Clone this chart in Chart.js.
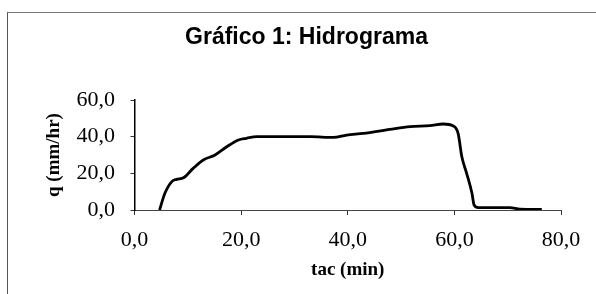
<!DOCTYPE html>
<html>
<head>
<meta charset="utf-8">
<script src="https://cdn.jsdelivr.net/npm/chart.js@4/dist/chart.umd.min.js"></script>
<style>
  html, body { margin: 0; padding: 0; background: #fff; }
  #wrap { position: relative; width: 596px; height: 294px; overflow: hidden; }
  #frame { position: absolute; left: 7px; top: 12px; width: 620px; height: 320px;
           border-top: 1px solid #777; border-left: 1px solid #555; }
  canvas { position: absolute; left: 0; top: 0; }
</style>
</head>
<body>
<div id="wrap">
  <div id="frame"></div>
  <canvas id="c" width="596" height="294"></canvas>
</div>
<script>
// Hydrograph readings: time (min) and discharge q (mm/hr)
const tac = [4.7, 5.7, 7.0, 7.9, 9.2, 11.0, 12.9, 15.1, 17.3, 19.5, 21.0, 22.9, 27.0, 33.0, 37.3, 39.8,
             42.9, 47.9, 51.7, 55.4, 57.9, 59.8, 60.7, 61.4, 62.3, 63.3, 63.7, 64.5, 67.0, 70.4, 72.3, 76.4];
const q   = [0.0, 9.1, 15.5, 16.7, 17.6, 22.7, 27.3, 30.0, 34.5, 38.2, 39.1, 40.0, 40.0, 40.0, 39.6, 40.9,
             41.8, 44.0, 45.5, 46.0, 46.9, 45.8, 41.8, 29.0, 20.0, 9.1, 2.7, 1.3, 1.3, 1.3, 0.5, 0.3];
const xTicks = [0, 20, 40, 60, 80];
const yTicks = [0, 20, 40, 60];
const titleText = 'Gráfico 1: Hidrograma';
const xTitle = 'tac (min)';
const yTitle = 'q (mm/hr)';

const fmt = v => v.toFixed(1).replace('.', ',');
const points = tac.map((t, i) => ({ x: t, y: q[i] }));

Chart.defaults.color = '#000';
new Chart(document.getElementById('c'), {
  type: 'scatter',
  data: {
    datasets: [{
      data: points,
      showLine: true,
      borderColor: '#000',
      borderWidth: 2.8,
      pointRadius: 0,
      cubicInterpolationMode: 'monotone',
      fill: false
    }]
  },
  options: {
    responsive: false,
    animation: false,
    layout: { padding: { left: 17, right: 0, top: 0, bottom: 0 } },
    plugins: {
      legend: { display: false },
      tooltip: { enabled: false },
      title: {
        display: true,
        text: titleText,
        color: '#000',
        font: { family: 'Liberation Sans', size: 23, weight: 'bold' },
        padding: { top: 24, bottom: 48.4 }
      }
    },
    scales: {
      x: {
        type: 'linear',
        min: 0, max: 80,
        afterBuildTicks: s => { s.ticks = xTicks.map(v => ({ value: v })); },
        afterFit: s => { s.height = 84; s.paddingRight = 35; s.paddingLeft = 0; },
        ticks: {
          callback: v => fmt(v),
          font: { family: 'Liberation Serif', size: 22 },
          color: '#000',
          padding: 12,
          maxRotation: 0
        },
        grid: { display: true, drawOnChartArea: false, drawTicks: true, tickLength: 5, color: '#333', lineWidth: 1 },
        border: { display: true, color: '#444', width: 1, dash: [9, 3] },
        title: {
          display: true,
          text: xTitle,
          color: '#000',
          font: { family: 'Liberation Serif', size: 19, weight: 'bold' },
          padding: { top: 0, bottom: 12.6 }
        }
      },
      y: {
        type: 'linear',
        min: 0, max: 60,
        afterBuildTicks: s => { s.ticks = yTicks.map(v => ({ value: v })); },
        afterFit: s => { s.width = 117.5; },
        ticks: {
          callback: v => fmt(v),
          font: { family: 'Liberation Serif', size: 22 },
          color: '#000',
          padding: 15.5
        },
        grid: { display: true, drawOnChartArea: false, drawTicks: true, tickLength: 4, color: '#333', lineWidth: 1 },
        border: { display: true, color: '#000', width: 1.5 },
        title: {
          display: true,
          text: yTitle,
          color: '#000',
          font: { family: 'Liberation Serif', size: 19, weight: 'bold' },
          padding: { top: 26, bottom: 0 }
        }
      }
    }
  }
});
</script>
</body>
</html>
